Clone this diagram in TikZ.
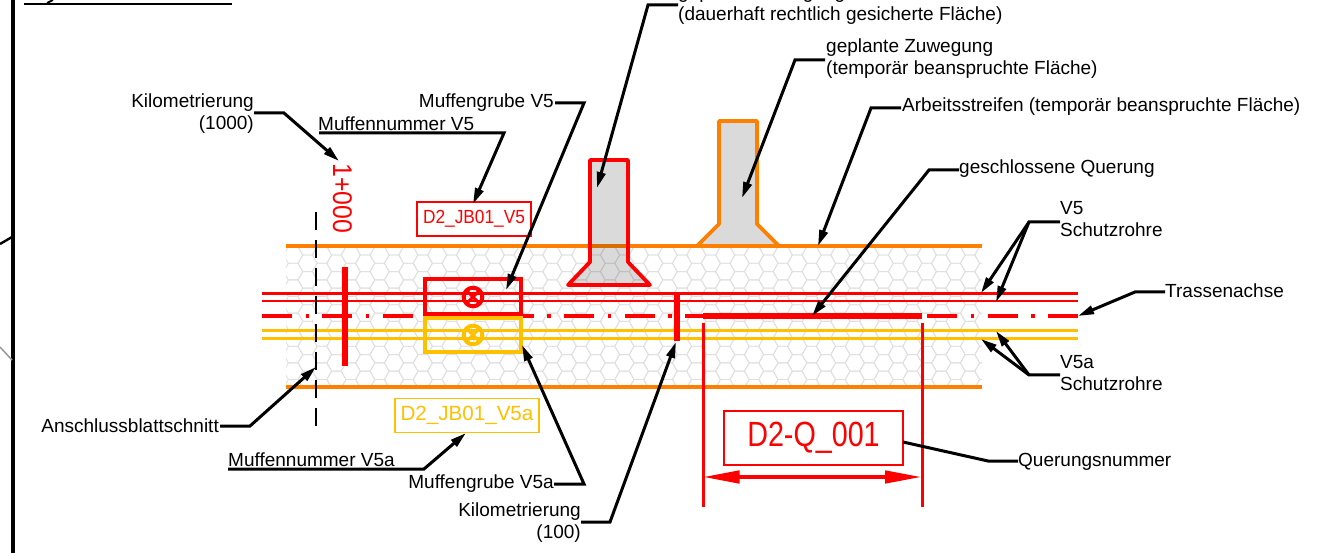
\documentclass[tikz,border=0pt]{standalone}
\usepackage{graphicx}
\usepackage{fontspec}
\setmainfont{Liberation Sans}
\usetikzlibrary{arrows.meta}
\definecolor{ored}{HTML}{FF0000}
\definecolor{oorange}{HTML}{FF8000}
\definecolor{oyellow}{HTML}{FFC000}
\definecolor{ohex}{HTML}{E0E0E0}
\tikzset{
 lab/.style={inner sep=0pt,font=\fontsize{19}{22}\selectfont,text=black},
 labl/.style={lab,anchor=base west,align=left},
 labr/.style={lab,anchor=base east,align=right},
 leader/.style={draw=black,line width=3pt,-{Triangle[length=16pt,width=8.5pt]}},
 plainleader/.style={draw=black,line width=3pt},
 hexline/.style={draw=ohex,line width=0.9pt},
 tube/.style={line width=3pt},
 tag/.style={draw,line width=1.4pt,fill=white,inner sep=0pt,minimum height=34pt},
 access/.style={line width=3.8pt,line join=round,fill=black,fill opacity=.145},
}
\newcommand{\hexat}[2]{\draw[hexline] (#1-9.6,#2) -- ++(4.8,-8.3) -- ++(9.6,0) -- ++(4.8,8.3) -- ++(-4.8,8.3) -- ++(-9.6,0) -- cycle;}
\begin{document}
\begin{tikzpicture}[x=1pt,y=-1pt]
\useasboundingbox (0,0) rectangle (1326,553);
% sheet frame
\draw[line width=4pt] (13,0) -- (13,553);
\draw[line width=2.4pt] (24,4) -- (232,4);
\draw[line width=2pt] (47,3) -- (53,0);
\draw[line width=2.4pt] (0,244) -- (12,237);
\draw[line width=1.5pt,draw=gray!80] (0,347) -- (12,360);
% hatch
\begin{scope}
\clip (286,247) rectangle (982,387);
\foreach \i in {0,...,24}{
 \foreach \j in {-1,...,7}{
  \pgfmathsetmacro{\ax}{293.2+28.8*\i}
  \pgfmathsetmacro{\ay}{271.6+16.6*\j}
  \pgfmathsetmacro{\bx}{307.6+28.8*\i}
  \pgfmathsetmacro{\by}{263.3+16.6*\j}
  \hexat{\ax}{\ay}
  \hexat{\bx}{\by}
 }}
\end{scope}
% work strip
\draw[draw=oorange,line width=3.8pt] (286,246) -- (982,246);
\draw[draw=oorange,line width=3.8pt] (286,387) -- (982,387);
% access ways
\draw[access,draw=ored] (590,160) -- (628,160) -- (628,262) -- (650,285) -- (568,285) -- (590,262) -- cycle;
\draw[access,draw=oorange] (719,121) -- (757,121) -- (757,224) -- (779,246) -- (697,246) -- (719,224) -- cycle;
% tubes
\draw[tube,draw=ored] (262,293.5) -- (1078,293.5);
\draw[tube,draw=ored,line width=2.6pt] (262,301) -- (1078,301);
\draw[tube,draw=oyellow] (262,331) -- (1078,331);
\draw[tube,draw=oyellow] (262,338.7) -- (1078,338.7);
% axis
\draw[draw=ored,line width=4pt,dash pattern=on 30pt off 13.5pt on 3.5pt off 13.46pt] (262,316) -- (1078,316);
% section line
\draw[draw=white,line width=7pt] (316,314) -- (316,324);
\draw[line width=2.6pt,dash pattern=on 18pt off 10pt] (316,212) -- (316,427);
% km bars
\draw[draw=ored,line width=5.4pt] (345,267) -- (345,366);
\draw[draw=ored,line width=5.4pt] (677,293) -- (677,341);
% crossing
\draw[draw=ored,line width=6pt] (703,316) -- (922,316);
\draw[draw=ored,line width=3pt] (703,323) -- (703,507);
\draw[draw=ored,line width=3pt] (922,323) -- (922,507);
\draw[draw=ored,line width=3.2pt,{Triangle[length=36pt,width=12.5pt]}-{Triangle[length=36pt,width=12.5pt]}] (703.5,477) -- (921,477);
% joint pits
\draw[draw=oyellow,line width=3.4pt] (425,318) rectangle (521,352);
\draw[draw=oyellow,line width=4pt] (473,335) circle (9.3);
\draw[draw=oyellow,line width=3pt] (467,329) -- (479,341) (467,341) -- (479,329);
\draw[draw=ored,line width=3.8pt] (425,279) rectangle (521,314);
\draw[draw=ored,line width=4pt] (473,297) circle (9.3);
\draw[draw=ored,line width=3pt] (467,291) -- (479,303) (467,303) -- (479,291);
% red/yellow tags
\node[tag,draw=ored,text=ored,minimum width=114pt,font=\fontsize{19}{22}\selectfont] (tagA) at (474,219) {\scalebox{0.91}[1]{D2\_JB01\_V5}};
\node[tag,draw=oyellow,text=oyellow,minimum width=144pt,font=\fontsize{20.6}{24}\selectfont] (tagB) at (467,415.5) {D2\_JB01\_V5a};
\node[tag,draw=ored,text=ored,minimum width=179pt,minimum height=54pt,font=\fontsize{35}{40}\selectfont] (tagQ) at (813.5,438) {\scalebox{0.82}[1]{D2-Q\_001}};
\node[inner sep=0pt,anchor=base west,rotate=-90,text=ored,font=\fontsize{27}{30}\selectfont] (kmt) at (333,163) {\scalebox{0.92}[1]{1+000}};
% labels
\node[labr] (lKmA) at (254,129.5) {Kilometrierung\\(1000)};
\node[labl] (lMnA) at (318,131) {Muffennummer V5};
\node[labr] (lMgA) at (554,108) {Muffengrube V5};
\node[labl] (lGes) at (678,21) {geplante Zuwegung\\(dauerhaft rechtlich gesicherte Fläche)};
\node[labl] (lTmp) at (826,75) {geplante Zuwegung\\(temporär beanspruchte Fläche)};
\node[labl] (lArb) at (902,112) {Arbeitsstreifen (temporär beanspruchte Fläche)};
\node[labl] (lQue) at (959,174) {geschlossene Querung};
\node[labl] (lVf) at (1060,237) {V5\\Schutzrohre};
\node[labl] (lTr) at (1165,297.5) {Trassenachse};
\node[labl] (lVa) at (1060,391) {V5a\\Schutzrohre};
\node[labl] (lQn) at (1018,466) {Querungsnummer};
\node[labr] (lAn) at (219,432) {Anschlussblattschnitt};
\node[labl] (lMnB) at (228,466) {Muffennummer V5a};
\node[labr] (lMgB) at (554,488.5) {Muffengrube V5a};
\node[labr] (lKmB) at (581,538) {Kilometrierung\\(100)};
% leader ends
\coordinate (sKmA) at (254,113); \coordinate (bKmA) at (284,113); \coordinate (tKmA) at (339,161);
\coordinate (sMnA) at (319,133); \coordinate (bMnA) at (504,133); \coordinate (tMnA) at (473,204);
\coordinate (sMgA) at (555,103); \coordinate (bMgA) at (584,103); \coordinate (tMgA) at (506,290);
\coordinate (sGes) at (678,5); \coordinate (bGes) at (648,5); \coordinate (tGes) at (597,188);
\coordinate (sTmp) at (825,60); \coordinate (bTmp) at (795,60); \coordinate (tTmp) at (742,198);
\coordinate (sArb) at (901,108); \coordinate (bArb) at (871,108); \coordinate (tArb) at (818,246);
\coordinate (sQue) at (959,170); \coordinate (bQue) at (929,170); \coordinate (tQue) at (812,316);
\coordinate (sVf) at (1060,222); \coordinate (bVf) at (1029,222); \coordinate (tVfA) at (981,293); \coordinate (tVfB) at (996,302);
\coordinate (sTr) at (1165,292); \coordinate (bTr) at (1135,292); \coordinate (tTr) at (1078,316);
\coordinate (sVa) at (1060,375); \coordinate (bVa) at (1029,375); \coordinate (tVaA) at (981,339); \coordinate (tVaB) at (996,331);
\coordinate (bQn) at (988,461); \coordinate (sQn) at (1018,461); \coordinate (eQn) at (903,442);
\coordinate (sAn) at (220,426); \coordinate (bAn) at (250,426); \coordinate (tAn) at (316,367);
\coordinate (sMnB) at (228,469); \coordinate (bMnB) at (424,469); \coordinate (tMnB) at (466,433);
\coordinate (sMgB) at (554,484); \coordinate (bMgB) at (584,484); \coordinate (tMgB) at (522,345);
\coordinate (sKmB) at (581,522); \coordinate (bKmB) at (610,522); \coordinate (tKmB) at (676,342);
% leaders
\draw[leader] (sKmA) -- (bKmA) -- (tKmA);
\draw[leader] (sMnA) -- (bMnA) -- (tMnA);
\draw[leader] (sMgA) -- (bMgA) -- (tMgA);
\draw[leader] (sGes) -- (bGes) -- (tGes);
\draw[leader] (sTmp) -- (bTmp) -- (tTmp);
\draw[leader] (sArb) -- (bArb) -- (tArb);
\draw[leader] (sQue) -- (bQue) -- (tQue);
\draw[leader] (sVf) -- (bVf) -- (tVfA);
\draw[leader] (bVf) -- (tVfB);
\draw[leader] (sTr) -- (bTr) -- (tTr);
\draw[leader] (sVa) -- (bVa) -- (tVaA);
\draw[leader] (bVa) -- (tVaB);
\draw[plainleader] (sQn) -- (bQn) -- (eQn);
\draw[leader] (sAn) -- (bAn) -- (tAn);
\draw[leader] (sMnB) -- (bMnB) -- (tMnB);
\draw[leader] (sMgB) -- (bMgB) -- (tMgB);
\draw[leader] (sKmB) -- (bKmB) -- (tKmB);
\end{tikzpicture}
\end{document}
